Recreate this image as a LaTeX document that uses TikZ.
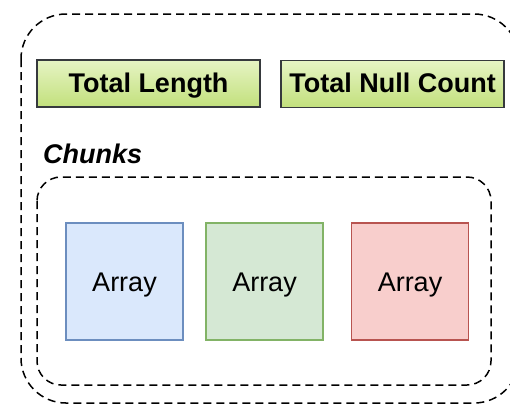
\documentclass[tikz,border=0pt]{standalone}
\usepackage{fontspec}
\setmainfont{Liberation Sans}
\definecolor{hdrtop}{HTML}{E6F4C4}
\definecolor{hdrbot}{HTML}{C2E07C}
\definecolor{hdrline}{HTML}{36393D}
\definecolor{bluefill}{HTML}{DAE8FC}
\definecolor{blueline}{HTML}{6C8EBF}
\definecolor{greenfill}{HTML}{D5E8D4}
\definecolor{greenline}{HTML}{82B366}
\definecolor{redfill}{HTML}{F8CECC}
\definecolor{redline}{HTML}{B85450}
\tikzset{
  dashbox/.style={draw=black, line width=1.5pt, dash pattern=on 8pt off 5pt},
  hdrbox/.style={draw=hdrline, line width=1.5pt, top color=hdrtop, bottom color=hdrbot,
    minimum width=223pt, minimum height=47pt, inner sep=0pt,
    text height=17pt, text depth=0pt,
    font=\fontsize{27}{32}\selectfont\bfseries},
  arraybox/.style={line width=1.5pt, minimum width=117pt, minimum height=117pt, inner sep=0pt,
    text height=19pt, text depth=0pt,
    font=\fontsize{27}{32}\selectfont},
  lbl/.style={inner sep=0pt, font=\fontsize{27}{32}\selectfont\bfseries\itshape}
}
\begin{document}
\begin{tikzpicture}[x=1pt,y=-1pt]
\useasboundingbox (0,0) rectangle (510,408);
\begin{scope}
\clip (0,0) rectangle (510,408);
\draw[dashbox, rounded corners=45pt] (21,14) rectangle (519,403);
\end{scope}
\draw[dashbox, rounded corners=24pt] (37,177) rectangle (491,385);
\node[hdrbox] (tl) at (148.5,83.5) {Total Length};
\node[hdrbox] (tnc) at (392.5,84) {Total Null Count};
\node[lbl, anchor=base west] (chunks) at (43,163) {Chunks};
\node[arraybox, draw=blueline, fill=bluefill] (a1) at (124.5,281.5) {Array};
\node[arraybox, draw=greenline, fill=greenfill] (a2) at (264.5,281.5) {Array};
\node[arraybox, draw=redline, fill=redfill] (a3) at (410,281.5) {Array};
\end{tikzpicture}
\end{document}
